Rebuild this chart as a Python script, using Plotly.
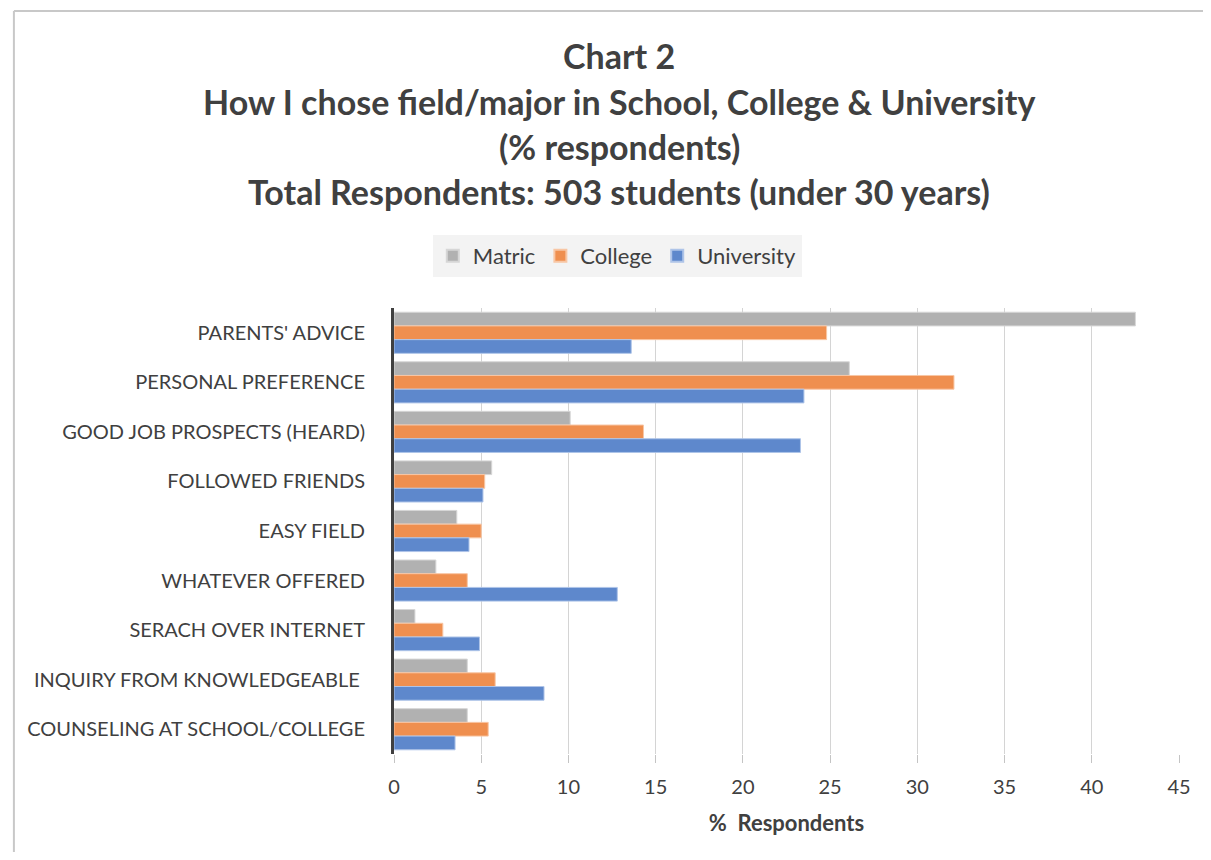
import plotly.graph_objects as go

categories = [
    "PARENTS' ADVICE",
    "PERSONAL PREFERENCE",
    "GOOD JOB PROSPECTS (HEARD)",
    "FOLLOWED FRIENDS",
    "EASY FIELD",
    "WHATEVER OFFERED",
    "SERACH OVER INTERNET",
    "INQUIRY FROM KNOWLEDGEABLE ",
    "COUNSELING AT SCHOOL/COLLEGE",
]
matric = [42.5, 26.1, 10.1, 5.6, 3.6, 2.4, 1.2, 4.2, 4.2]
college = [24.8, 32.1, 14.3, 5.2, 5.0, 4.2, 2.8, 5.8, 5.4]
university = [13.6, 23.5, 23.3, 5.1, 4.3, 12.8, 4.9, 8.6, 3.5]
x_ticks = [0, 5, 10, 15, 20, 25, 30, 35, 40, 45]

title_lines = [
    "Chart 2",
    "How I chose field/major in School, College &amp; University",
    "(% respondents)",
    "Total Respondents: 503 students (under 30 years)",
]

FONT = "Lato"
TXT = "#404040"
OFF = 8  # page body margin

fig = go.Figure()
series = [
    ("Matric", matric, "#b1b1b1", "#d6d6d6"),
    ("College", college, "#ef8f4f", "#f8c6a4"),
    ("University", university, "#5e88cc", "#aec4e8"),
]
for name, vals, col, edge in series:
    fig.add_trace(go.Bar(
        name=name, y=categories, x=vals, orientation="h",
        marker=dict(color=col, line=dict(color=edge, width=1)),
    ))

W, H = 1211 - 2 * OFF, 860 - 2 * OFF
L = 394 - OFF
R = W - (1185 - OFF)
T = 308 - OFF
B = H - (754 - OFF)
pw = W - L - R
ph = H - T - B

def px_to_paper_x(px):
    return (px - OFF - L) / pw

def px_to_paper_y(py):
    return (H - B - (py - OFF)) / ph

annotations = []
ys = [56, 101, 146, 191]
for line, yy in zip(title_lines, ys):
    annotations.append(dict(
        text="<b>" + line + "</b>", xref="paper", yref="paper",
        x=px_to_paper_x(621), y=px_to_paper_y(yy),
        xanchor="center", yanchor="middle", showarrow=False,
        font=dict(family=FONT, size=34, color=TXT),
    ))

border = dict(color="#c8c8c8", width=2)
fig.update_layout(
    width=W, height=H,
    margin=dict(l=L, r=R, t=T, b=B),
    paper_bgcolor="white", plot_bgcolor="white",
    barmode="group", bargap=0.17, bargroupgap=0.0,
    font=dict(family=FONT, color=TXT, size=20),
    showlegend=True,
    legend=dict(
        orientation="h", x=px_to_paper_x(619), y=px_to_paper_y(256),
        xanchor="center", yanchor="middle",
        bgcolor="#f3f3f3", font=dict(size=22, color=TXT, family=FONT),
        itemsizing="constant", traceorder="normal", itemwidth=30,
    ),
    xaxis=dict(
        range=[0, 45], tickvals=x_ticks, ticktext=[str(v) for v in x_ticks],
        showgrid=True, gridcolor="#d4d4d4", gridwidth=1,
        zeroline=False, showline=False,
        ticks="outside", ticklen=8, tickcolor="#c4c4c4", tickwidth=1,
        tickfont=dict(size=20, color=TXT), ticklabelstandoff=7,
        title=dict(text="<b>%  Respondents</b>", font=dict(size=22, color=TXT), standoff=18),
    ),
    yaxis=dict(
        autorange="reversed", showline=True, linecolor="#404040", linewidth=3,
        ticks="", tickfont=dict(size=20, color=TXT), ticklabelstandoff=22,
        showgrid=False,
    ),
    annotations=annotations,
    shapes=[
        dict(type="line", xref="paper", yref="paper",
             x0=px_to_paper_x(11), x1=px_to_paper_x(1300),
             y0=px_to_paper_y(11), y1=px_to_paper_y(11),
             line=border, layer="below"),
        dict(type="line", xref="paper", yref="paper",
             x0=px_to_paper_x(11), x1=px_to_paper_x(11),
             y0=px_to_paper_y(11), y1=px_to_paper_y(950),
             line=border, layer="below"),
    ],
)

fig.write_html("out.html")
